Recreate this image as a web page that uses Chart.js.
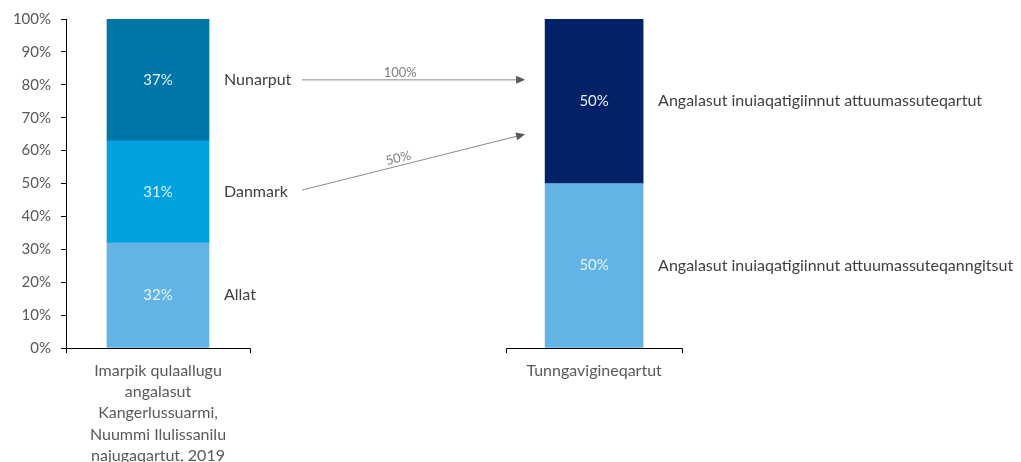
<!DOCTYPE html>
<html>
<head>
<meta charset="utf-8">
<script src="https://cdn.jsdelivr.net/npm/chart.js@4.4.1/dist/chart.umd.min.js"></script>
<style>
  body { margin: 0; background: #fff; }
  #wrap { width: 1021px; height: 462px; position: relative; }
</style>
</head>
<body>
<div id="wrap"><canvas id="chart"></canvas></div>
<script>
// categories (x) and stacked series, in %
const categories = [
  ['Imarpik qulaallugu', 'angalasut', 'Kangerlussuarmi,', 'Nuummi Ilulissanilu', 'najugaqartut, 2019'],
  ['Tunngavigineqartut']
];
const allat = [32, null];
const danmark = [31, null];
const nunarput = [37, null];
const attuumassuteqanngitsut = [null, 50];
const attuumassuteqartut = [null, 50];
const yTicks = [0, 10, 20, 30, 40, 50, 60, 70, 80, 90, 100];

// arrows between the bars (y values in %) and their labels
const arrowFrom = [81.5, 48];
const arrowTo = [81.5, 65];
const arrowText = ['100%', '50%'];

const FONT = 'Lato, "Open Sans", sans-serif';
const textGrey = '#595959';

function pts(arr) {
  return arr.map((v, i) => ({ x: i, y: v }));
}

// value labels inside bars + series names to the right
const barLabels = {
  id: 'barLabels',
  afterDatasetsDraw(chart) {
    const ctx = chart.ctx;
    ctx.save();
    chart.data.datasets.forEach((ds, di) => {
      const meta = chart.getDatasetMeta(di);
      meta.data.forEach((el, i) => {
        const v = ds.data[i].y;
        if (v == null) return;
        const cy = (el.y + el.base) / 2;
        ctx.textBaseline = 'middle';
        ctx.font = '15px ' + FONT;
        ctx.fillStyle = '#e4f1f9';
        ctx.textAlign = 'center';
        ctx.fillText(v + '%', el.x, cy);
        ctx.font = '16px ' + FONT;
        ctx.fillStyle = '#404040';
        ctx.textAlign = 'left';
        ctx.fillText(ds.label, el.x + el.width / 2 + 15, cy);
      });
    });
    ctx.restore();
  }
};

// x axis drawn as two short segments under each bar
const xAxisSegments = {
  id: 'xAxisSegments',
  afterDraw(chart) {
    const ctx = chart.ctx;
    const xs = chart.scales.x;
    const bottom = chart.chartArea.bottom;
    const half = [92, 88];
    ctx.save();
    ctx.strokeStyle = '#000';
    ctx.lineWidth = 1;
    categories.forEach((c, i) => {
      const cx = xs.getPixelForValue(i);
      const a = Math.round(cx - half[i]) + 0.5, b = Math.round(cx + half[i]) + 0.5;
      ctx.beginPath();
      ctx.moveTo(a, bottom + 5);
      ctx.lineTo(a, bottom + 0.5);
      ctx.lineTo(b, bottom + 0.5);
      ctx.lineTo(b, bottom + 5);
      ctx.stroke();
    });
    ctx.restore();
  }
};

const arrows = {
  id: 'arrows',
  afterDraw(chart) {
    const ctx = chart.ctx;
    const xs = chart.scales.x, ys = chart.scales.y;
    const x0 = xs.getPixelForValue(0) + 144;
    const x1 = xs.getPixelForValue(1) - 69;
    ctx.save();
    arrowFrom.forEach((f, i) => {
      const y0 = ys.getPixelForValue(f), y1 = ys.getPixelForValue(arrowTo[i]);
      const ang = Math.atan2(y1 - y0, x1 - x0);
      ctx.strokeStyle = '#8a8a8a';
      ctx.fillStyle = '#595959';
      ctx.lineWidth = 1;
      ctx.beginPath();
      ctx.moveTo(x0, y0);
      ctx.lineTo(x1 - 8 * Math.cos(ang), y1 - 8 * Math.sin(ang));
      ctx.stroke();
      ctx.save();
      ctx.translate(x1, y1);
      ctx.rotate(ang);
      ctx.beginPath();
      ctx.moveTo(0, 0);
      ctx.lineTo(-9, -4);
      ctx.lineTo(-9, 4);
      ctx.closePath();
      ctx.fill();
      ctx.restore();
      const t = 0.44;
      ctx.save();
      ctx.translate(x0 + (x1 - x0) * t, y0 + (y1 - y0) * t);
      ctx.rotate(ang);
      ctx.font = '13px ' + FONT;
      ctx.fillStyle = '#7f7f7f';
      ctx.textAlign = 'center';
      ctx.textBaseline = 'bottom';
      ctx.fillText(arrowText[i], 0, -1);
      ctx.restore();
    });
    ctx.restore();
  }
};

const ctx = document.getElementById('chart');
new Chart(ctx, {
  type: 'bar',
  data: {
    datasets: [
      { label: 'Allat', data: pts(allat), backgroundColor: '#63b4e4', barThickness: 102 },
      { label: 'Danmark', data: pts(danmark), backgroundColor: '#00a3e0', barThickness: 102 },
      { label: 'Nunarput', data: pts(nunarput), backgroundColor: '#0076a8', barThickness: 102 },
      { label: 'Angalasut inuiaqatigiinnut attuumassuteqanngitsut', data: pts(attuumassuteqanngitsut), backgroundColor: '#63b4e4', barThickness: 98 },
      { label: 'Angalasut inuiaqatigiinnut attuumassuteqartut', data: pts(attuumassuteqartut), backgroundColor: '#022168', barThickness: 98 }
    ]
  },
  options: {
    responsive: true,
    maintainAspectRatio: false,
    animation: false,
    layout: { padding: { top: 19, right: 10, bottom: 0, left: 0 } },
    plugins: {
      legend: { display: false },
      tooltip: { enabled: false }
    },
    scales: {
      x: {
        type: 'linear',
        stacked: true,
        offset: false,
        bounds: 'data',
        min: -0.211,
        max: 1.956,
        grid: { display: false, offset: false },
        border: { display: false },
        afterBuildTicks: (scale) => {
          scale.ticks = categories.map((c, i) => ({ value: i }));
        },
        afterFit: (scale) => { scale.height = 114; },
        ticks: {
          autoSkip: false,
          maxRotation: 0,
          padding: 4,
          color: textGrey,
          font: { family: FONT, size: 16, lineHeight: 1.33 },
          callback: (v, i) => categories[i]
        }
      },
      y: {
        stacked: true,
        min: 0,
        max: 100,
        afterBuildTicks: (scale) => {
          scale.ticks = yTicks.map(v => ({ value: v }));
        },
        afterFit: (scale) => { scale.width = 66; },
        grid: { drawOnChartArea: false, tickLength: 5, color: '#000' },
        border: { color: '#000' },
        ticks: {
          padding: 10,
          color: textGrey,
          font: { family: FONT, size: 15 },
          callback: v => v + '%'
        }
      }
    }
  },
  plugins: [barLabels, xAxisSegments, arrows]
});
</script>
</body>
</html>
